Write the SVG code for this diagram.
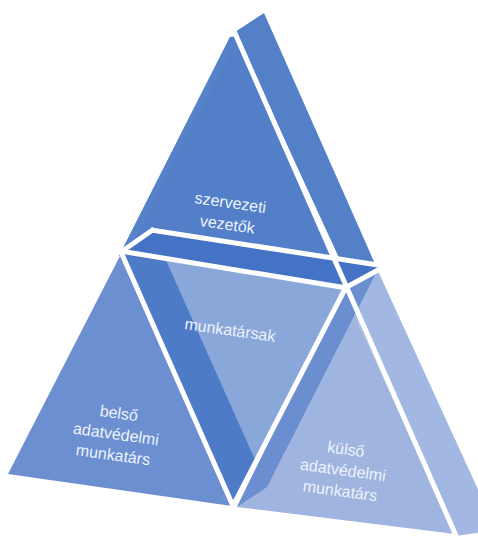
<svg xmlns="http://www.w3.org/2000/svg" width="478" height="536" viewBox="0 0 478 536">
  <style>
    .gap { stroke: #ffffff; stroke-width: 5; fill: none; stroke-linecap: butt; }
    .lbl { font-family: "Liberation Sans", "Open Sans", sans-serif; font-size: 16px; fill: #EDF2FB; text-anchor: middle; }
  </style>
  <rect width="478" height="536" fill="#ffffff"/>

  <g id="top-szervezeti-vezetok">
    <polygon points="230,37 119,256 347,291 237,36" fill="#527FC8"/>
    <polygon points="230,37 119,256 127,256 232,48" fill="#5783CB" opacity="0.8"/>
    <polygon points="235,32 264,13 376,266 340,260" fill="#5480C8"/>
    <text class="lbl" transform="translate(229,213) rotate(8)"><tspan x="0" y="-5">szervezeti</tspan><tspan x="0" y="17">vezetők</tspan></text>
  </g>

  <g id="middle-munkatarsak">
    <polygon points="121,252 345,289 233,505" fill="#8AA7DA"/>
    <polygon points="121,252 153,231 256,462 233,505" fill="#4E7BC8"/>
    <polygon points="121,252 153,230 376,265 379,271 345,289" fill="#4472C4"/>
    <text class="lbl" transform="translate(230,330) rotate(8)"><tspan x="0" y="5.5">munkatársak</tspan></text>
  </g>

  <g id="bottom-left-belso">
    <polygon points="8,474 121,254 232,506" fill="#6B8FD0"/>
    <text class="lbl" transform="translate(116,434) rotate(8)"><tspan x="0" y="-15.5">belső</tspan><tspan x="0" y="5.5">adatvédelmi</tspan><tspan x="0" y="26.5">munkatárs</tspan></text>
  </g>

  <g id="bottom-right-kulso">
    <polygon points="343,290 378,271 492,520 490,531 456,536" fill="#A2B7E1"/>
    <polygon points="343,290 237,507 455,534" fill="#9FB5E0"/>
    <polygon points="343,290 377,271 267,487 237,507" fill="#6A8ECF"/>
    <text class="lbl" transform="translate(343,470) rotate(8)"><tspan x="0" y="-15.5">külső</tspan><tspan x="0" y="5.5">adatvédelmi</tspan><tspan x="0" y="26.5">munkatárs</tspan></text>
  </g>

  <g id="connectors">
    <line class="gap" x1="234" y1="31" x2="457" y2="538"/>
    <line class="gap" x1="151" y1="230" x2="378" y2="265"/>
    <line class="gap" x1="120" y1="251" x2="347" y2="288"/>
    <line class="gap" x1="121" y1="252" x2="154" y2="229"/>
    <line class="gap" x1="121" y1="252" x2="233" y2="506"/>
    <line class="gap" x1="346" y1="287" x2="233" y2="506"/>
    <line class="gap" x1="343" y1="289" x2="380" y2="269"/>
  </g>
</svg>
